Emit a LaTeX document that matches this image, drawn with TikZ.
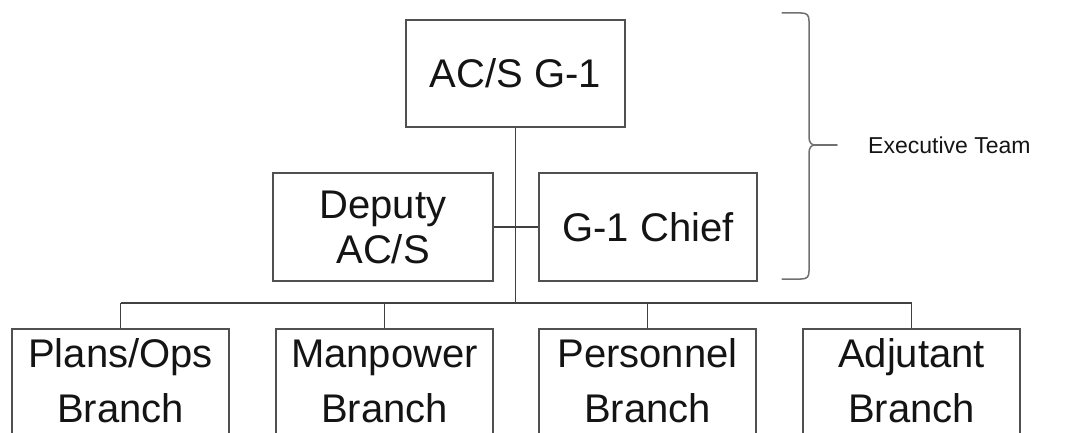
\documentclass[tikz,border=0pt]{standalone}
\usepackage{fontspec}
\setmainfont{Liberation Sans}
\definecolor{boxline}{HTML}{505050}
\definecolor{wire}{HTML}{404040}
\definecolor{bracegray}{HTML}{707070}
\definecolor{ink}{HTML}{141414}
% fixed first-line height so every branch label sits on the same baseline
\newcommand{\firstline}{\rule{0pt}{29pt}}
\begin{document}
\begin{tikzpicture}[x=1pt,y=-1pt,
  box/.style={draw=boxline, line width=1.8pt, inner sep=0pt, text=ink,
    align=center, font=\fontsize{40}{45}\selectfont},
  branchbox/.style={draw=boxline, line width=1.8pt, inner sep=0pt,
    anchor=north, minimum width=217pt, minimum height=140pt},
  branchtext/.style={inner sep=0pt, anchor=north, text=ink, align=center,
    font=\fontsize{40}{55}\selectfont},
  wireline/.style={draw=wire, line width=1.3pt},
  brace/.style={draw=bracegray, line width=1.5pt, line cap=round, line join=round}]

\clip (0,0) rectangle (1067,433);
\useasboundingbox (0,0) rectangle (1067,433);

% executive level
\node[box, minimum width=219pt, minimum height=107pt] (top) at (515.5,73.5) {AC/S G-1};
\node[box, minimum width=220pt, minimum height=108pt] (dep) at (383,227) {Deputy\\AC/S};
\node[box, minimum width=218pt, minimum height=108pt] (chief) at (648,227) {G-1 Chief};

% branch level
\node[branchbox] (plans) at (120.5,328) {};
\node[branchbox] (man)   at (384.5,328) {};
\node[branchbox] (pers)  at (647.5,328) {};
\node[branchbox] (adj)   at (911.5,328) {};
\node[branchtext] (plansT) at (120.5,338) {\firstline Plans/Ops\\Branch};
\node[branchtext] (manT)   at (384.5,338) {\firstline Manpower\\Branch};
\node[branchtext] (persT)  at (647.5,338) {\firstline Personnel\\Branch};
\node[branchtext] (adjT)   at (911.5,338) {\firstline Adjutant\\Branch};

% connectors
\coordinate (bus) at (515.5,303);
\draw[wireline] (top.south) -- (bus);
\draw[wireline] (dep.east) -- (chief.west);
\draw[wireline] (plans.north |- bus) -- (adj.north |- bus);
\foreach \b in {plans,man,pers,adj}
  \draw[wireline] (\b.north |- bus) -- (\b.north);

% brace grouping the executive team
\coordinate (tip) at (837,145);
\draw[brace] (782,13) -- (801,13) .. controls (807,13) and (809,15) .. (809,21)
  -- (809,137) .. controls (809,142) and (811,145) .. (815,145)
  .. controls (811,145) and (809,148) .. (809,153)
  -- (809,271) .. controls (809,277) and (807,279) .. (801,279) -- (782,279);
\draw[brace] (815,145) -- (tip);
\node[anchor=west, inner sep=0pt, text=ink, font=\fontsize{23}{23}\selectfont]
  (exec) at (868,145) {Executive Team};
\end{tikzpicture}
\end{document}
